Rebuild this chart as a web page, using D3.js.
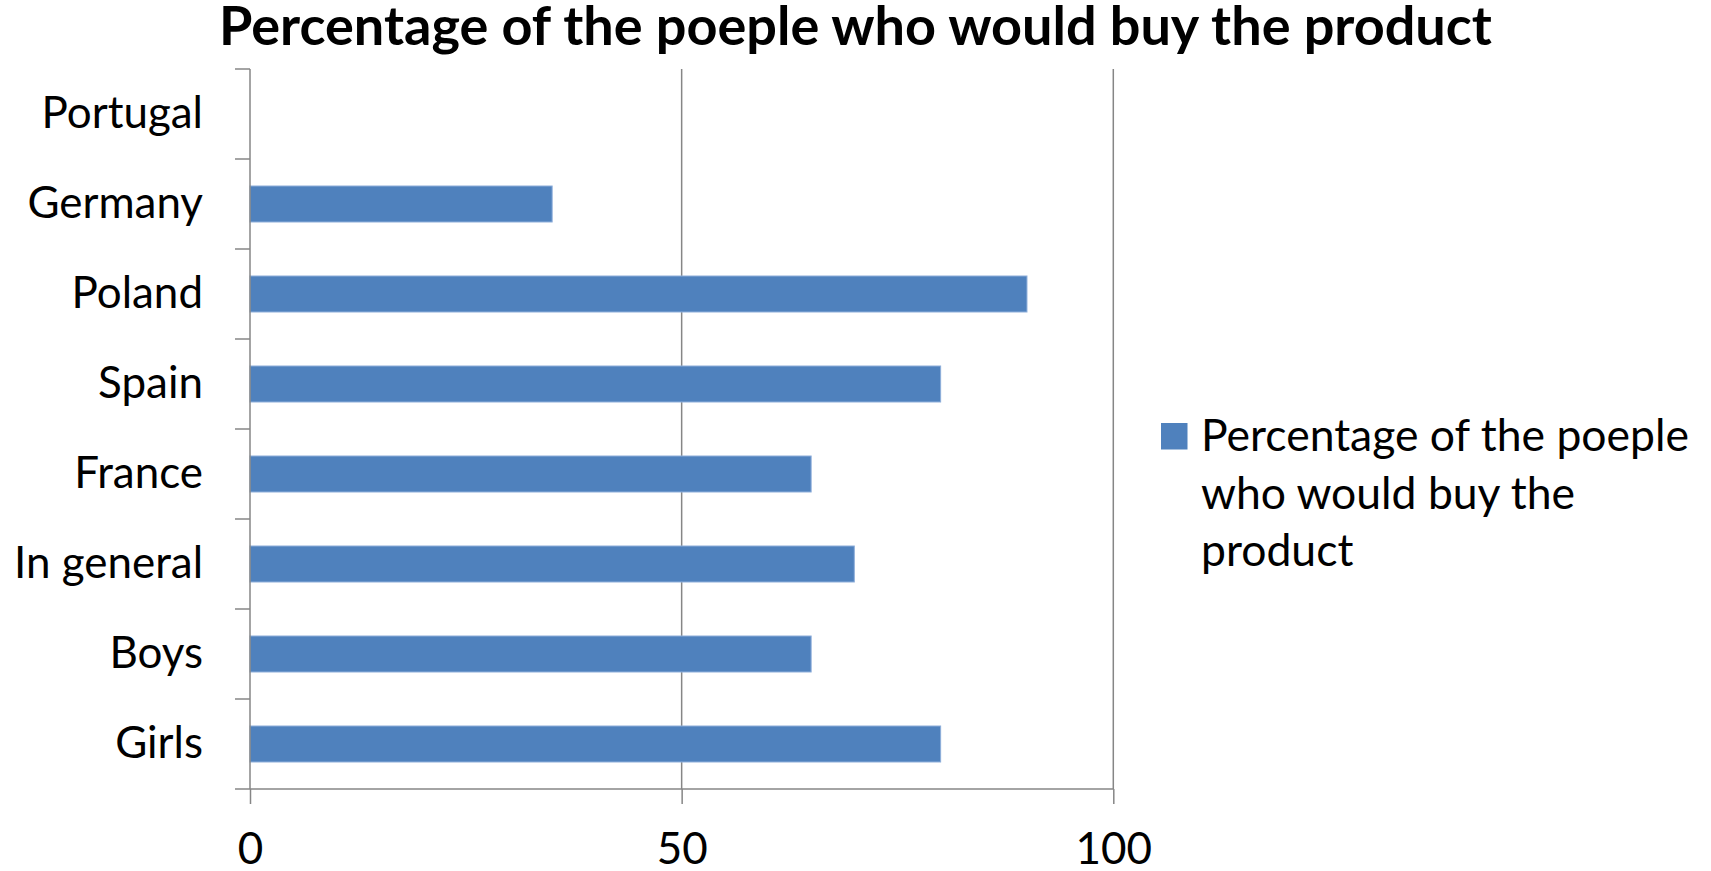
<!DOCTYPE html>
<html>
<head>
<meta charset="utf-8">
<script src="https://cdn.jsdelivr.net/npm/d3@7"></script>
<style>
  html, body { margin: 0; padding: 0; background: #ffffff; }
  svg { display: block; }
  text { font-family: Lato, "Open Sans", sans-serif; fill: #000; }
</style>
</head>
<body>
<svg id="chart" width="1711" height="871"></svg>
<script>
// Survey answers, listed top to bottom as shown on the category axis
const categories = ["Portugal", "Germany", "Poland", "Spain", "France", "In general", "Boys", "Girls"];
const percentages = [0, 35, 90, 80, 65, 70, 65, 80];
const xTicks = [0, 50, 100];
const chartTitle = "Percentage of the poeple who would buy the product";
const seriesName = "Percentage of the poeple who would buy the product";
const legendLines = ["Percentage of the poeple", "who would buy the", "product"];

const data = categories.map((c, i) => ({ category: c, value: percentages[i] }));

const W = 1711, H = 871;
const plot = { left: 250, right: 1113.3, top: 69, bottom: 789 };
const axisColor = "#868686";
const barColor = "#4F81BD";

const svg = d3.select("#chart");

// Shrinks or grows a text's font size until it spans the wanted width
function fitWidth(sel, target) {
  const node = sel.node();
  const size = parseFloat(sel.attr("font-size"));
  const w = node.getComputedTextLength();
  sel.attr("font-size", (size * target / w).toFixed(2));
}

const x = d3.scaleLinear().domain([0, 100]).range([plot.left, plot.right]);
const y = d3.scaleBand().domain(categories).range([plot.top, plot.bottom])
  .paddingInner(0.6).paddingOuter(0.3);

// Vertical gridlines (the 0 line is the category axis itself)
svg.append("g").selectAll("line")
  .data(xTicks.filter(t => t !== 0))
  .join("line")
  .attr("x1", d => x(d)).attr("x2", d => x(d))
  .attr("y1", plot.top).attr("y2", plot.bottom)
  .attr("stroke", axisColor).attr("stroke-width", 1.5);

// Bars
svg.append("g").selectAll("rect")
  .data(data.filter(d => d.value > 0))
  .join("rect")
  .attr("x", x(0))
  .attr("y", d => y(d.category))
  .attr("width", d => x(d.value) - x(0))
  .attr("height", y.bandwidth())
  .attr("fill", barColor)
  .attr("stroke", "#8EAEDA")
  .attr("stroke-width", 1);

// Category axis with ticks between the bands
const yAxis = svg.append("g");
yAxis.append("line")
  .attr("x1", plot.left).attr("x2", plot.left)
  .attr("y1", plot.top).attr("y2", plot.bottom)
  .attr("stroke", axisColor).attr("stroke-width", 1.5);
const edgeScale = d3.scaleLinear().domain([0, categories.length]).range([plot.top, plot.bottom]);
yAxis.selectAll("line.tick")
  .data(d3.range(categories.length + 1))
  .join("line")
  .attr("class", "tick")
  .attr("x1", plot.left - 15).attr("x2", plot.left)
  .attr("y1", d => edgeScale(d)).attr("y2", d => edgeScale(d))
  .attr("stroke", axisColor).attr("stroke-width", 1.5);

const catLabels = yAxis.selectAll("text")
  .data(categories)
  .join("text")
  .attr("x", plot.left - 47)
  .attr("y", d => y(d) + y.bandwidth() / 2 + 14)
  .attr("text-anchor", "end")
  .attr("font-size", 40)
  .text(d => d);
fitWidth(catLabels.filter(d => d === "In general"), 189);
const catSize = catLabels.filter(d => d === "In general").attr("font-size");
catLabels.attr("font-size", catSize);

// Value axis along the bottom
const xAxis = svg.append("g").attr("transform", `translate(0,${plot.bottom})`)
  .call(d3.axisBottom(x).tickValues(xTicks).tickSize(15).tickPadding(0).tickFormat(d3.format("d")));
xAxis.select(".domain").attr("stroke", axisColor).attr("stroke-width", 1.5)
  .attr("d", `M${plot.left},0H${plot.right}`);
xAxis.selectAll(".tick line").attr("stroke", axisColor).attr("stroke-width", 1.5);
xAxis.selectAll(".tick text")
  .attr("y", 75).attr("dy", null)
  .attr("font-size", catSize)
  .attr("font-family", "Lato, 'Open Sans', sans-serif")
  .attr("fill", "#000");

// Title
const title = svg.append("text")
  .attr("x", W / 2).attr("y", 45)
  .attr("text-anchor", "middle")
  .attr("font-weight", "bold")
  .attr("font-size", 44)
  .text(chartTitle);
fitWidth(title, 1273);

// Legend
const legend = svg.append("g").attr("class", "legend");
legend.append("rect")
  .attr("x", 1161).attr("y", 423).attr("width", 26.5).attr("height", 26.5)
  .attr("fill", barColor);
legend.append("title").text(seriesName);
const legendText = legend.append("text")
  .attr("x", 1201).attr("y", 451)
  .attr("font-size", catSize);
legendText.selectAll("tspan")
  .data(legendLines)
  .join("tspan")
  .attr("x", 1201)
  .attr("dy", (d, i) => i === 0 ? 0 : 57.5)
  .text(d => d);
// Size the legend so its first line spans the same width as in the layout
const firstLine = legendText.select("tspan").node();
const lw = firstLine.getComputedTextLength();
legendText.attr("font-size", (parseFloat(catSize) * 488 / lw).toFixed(2));
</script>
</body>
</html>
